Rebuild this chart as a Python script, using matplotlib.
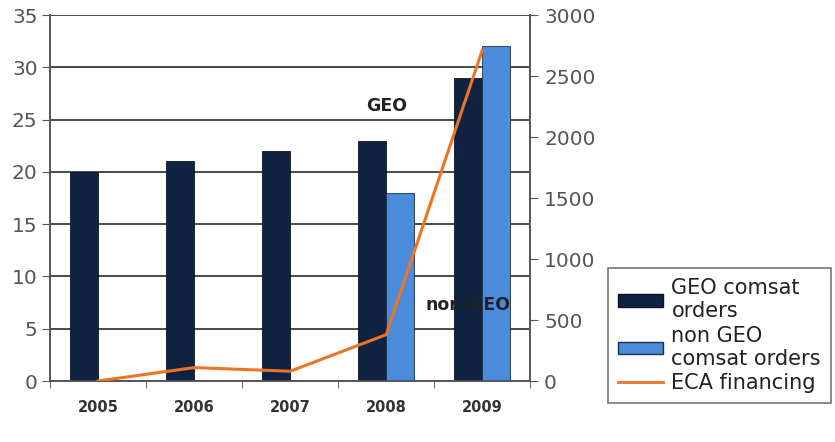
import numpy as np
import matplotlib.pyplot as plt
from matplotlib.patches import Patch
from matplotlib.lines import Line2D

years = ['2005', '2006', '2007', '2008', '2009']
geo_orders = [20, 21, 22, 23, 29]
non_geo_orders = [0, 0, 0, 18, 32]
eca_financing = [0, 110, 80, 380, 2710]

geo_color = '#0f2242'
non_geo_color = '#4a8bdc'
eca_color = '#ec7422'

fig = plt.figure(figsize=(8.35, 4.42), dpi=100)
ax0 = fig.add_axes([0.06, 0.138, 0.575, 0.828])
ax1 = ax0.twinx()

x = np.arange(len(years))
w = 0.29
ax0.bar(x - w / 2, geo_orders, w, color=geo_color, edgecolor='#0a1424', linewidth=0.6, zorder=3)
ax0.bar(x + w / 2, non_geo_orders, w, color=non_geo_color, edgecolor='#1e3050', linewidth=0.6, zorder=3)
ax1.plot(x, eca_financing, color=eca_color, linewidth=2.2, zorder=4)

ax0.set_xlim(-0.5, 4.5)
ax0.set_ylim(0, 35)
ax1.set_ylim(0, 3000)
ax0.set_yticks(range(0, 36, 5))
ax1.set_yticks(range(0, 3001, 500))
ax0.yaxis.grid(True, color='#4a4a4a', linewidth=1.4, zorder=0)
ax0.set_axisbelow(True)

ax0.set_xticks(x)
ax0.set_xticklabels(years, fontsize=10.5, fontweight='bold', color='#333333')
ax0.set_xticks(np.arange(-0.5, 5, 1), minor=True)
ax0.tick_params(axis='x', which='major', length=0, pad=14)
ax0.tick_params(axis='x', which='minor', length=5, color='#555555', direction='out')
ax0.tick_params(axis='y', labelsize=14.5, labelcolor='#555555', color='#555555', length=6, pad=3)
ax1.tick_params(axis='y', labelsize=14.5, labelcolor='#555555', color='#555555', length=6, pad=4)

for a in (ax0, ax1):
    a.spines['top'].set_visible(False)
    for s in ('left', 'right', 'bottom'):
        a.spines[s].set_color('#555555')
        a.spines[s].set_linewidth(1.2)

ax0.text(3.0, 26.3, 'GEO', fontsize=12.5, fontweight='bold', color='#222222', ha='center', va='center', zorder=5)
ax0.text(3.85, 7.3, 'non-GEO', fontsize=12.5, fontweight='bold', color='#222222', ha='center', va='center', zorder=5)

handles = [Patch(facecolor=geo_color, edgecolor='#0a1424'),
           Patch(facecolor=non_geo_color, edgecolor='#1e3050'),
           Line2D([], [], color=eca_color, linewidth=2)]
labels = ['GEO comsat\norders', 'non GEO\ncomsat orders', 'ECA financing']
leg = fig.legend(handles, labels, loc='upper left', bbox_to_anchor=(0.728, 0.394),
                 fontsize=15, frameon=True, fancybox=False, edgecolor='#555555',
                 handlelength=2.15, handleheight=0.55, handletextpad=0.4, labelspacing=0.2,
                 borderpad=0.5, borderaxespad=0, labelcolor='#222222')
leg.get_frame().set_linewidth(1.2)

fig.savefig('out.png', dpi=100)
